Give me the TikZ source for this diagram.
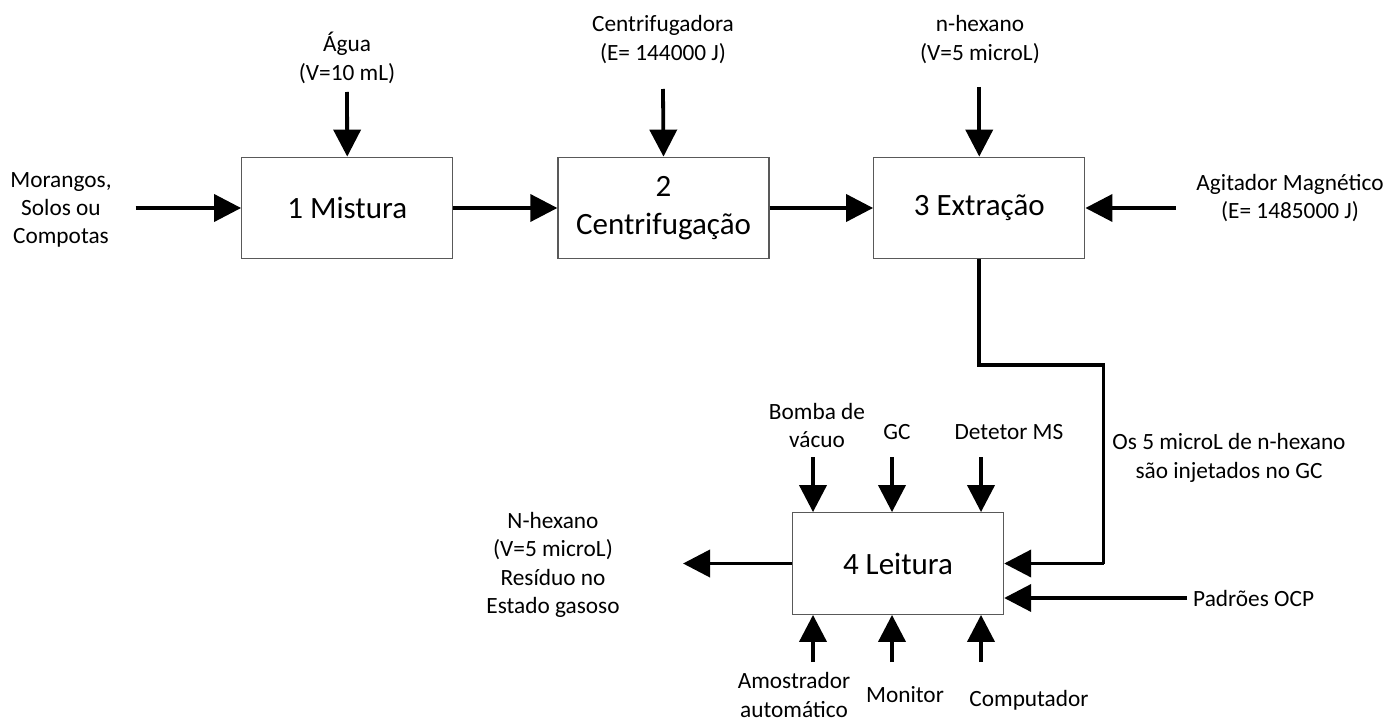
\documentclass[tikz,border=0pt]{standalone}
\usepackage{fontspec}
\setmainfont{Carlito}
\usetikzlibrary{arrows.meta}

\tikzset{
  stagebox/.style={draw=black!65, line width=1.3pt, minimum width=211pt, minimum height=101.5pt,
    inner sep=0pt, font=\fontsize{31}{37.5}\selectfont, align=center},
  lbl/.style={inner sep=0pt, font=\fontsize{23.3}{28.3}\selectfont, align=center},
  flow/.style={line width=3.8pt, -{Triangle[length=27pt,width=27pt]}},
  pipe/.style={line width=3.8pt}
}

\begin{document}
\begin{tikzpicture}[x=1pt,y=-1pt]
  \useasboundingbox (0,0) rectangle (1389,722);

  % process stages
  \node[stagebox] (b1) at (347.25,208) {1 Mistura};
  \node[stagebox] (b2) at (663.5,208) {2\\Centrifugação};
  \node[stagebox] (b3) at (979.25,208) {3 Extração};
  \node[stagebox] (b4) at (898,563.5) {4 Leitura};

  % inputs of the first three stages
  \node[lbl] (feed) at (61,210) {Morangos,\\Solos ou\\Compotas};
  \coordinate (feedE) at (135.5,208);
  \draw[flow] (feedE) -- (b1.west);

  \node[lbl] (agua) at (347,58) {Água\\(V=10 mL)};
  \coordinate (aguaS) at (347,92);
  \draw[flow] (aguaS) -- (b1.north);

  \draw[flow] (b1.east) -- (b2.west);

  \node[lbl] (centr) at (663,39.5) {Centrifugadora\\(E= 144000 J)};
  \coordinate (centrS) at (663,89);
  \draw[flow] (centrS) -- (b2.north);

  \draw[flow] (b2.east) -- (b3.west);

  \node[lbl] (hex) at (980,39.5) {n-hexano\\(V=5 microL)};
  \coordinate (hexS) at (979.25,87);
  \draw[flow] (hexS) -- (b3.north);

  \node[lbl] (agit) at (1290,198) {Agitador Magnético\\(E= 1485000 J)};
  \coordinate (agitW) at (1176,208);
  \draw[flow] (agitW) -- (b3.east);

  % transfer of the extract to the reading stage
  \coordinate (e1) at (979.25,365);
  \coordinate (e2) at (1103.5,365);
  \coordinate (e3) at (1103.5,563.5);
  \draw[pipe, line join=miter] (b3.south) -- (e1) -- (e2) -- (e3);
  \draw[flow] (e3) -- (b4.east |- e3);
  \node[lbl] (inj) at (1229,458) {Os 5 microL de n-hexano\\são injetados no GC};

  % equipment above the reading stage
  \node[lbl] (bomba) at (817,425.5) {Bomba de\\vácuo};
  \node[lbl] (gc) at (897,432) {GC};
  \node[lbl] (det) at (1009,432) {Detetor MS};
  \coordinate (t1) at (813,457);
  \coordinate (t2) at (892,457);
  \coordinate (t3) at (981,457);
  \draw[flow] (t1) -- (t1 |- b4.north);
  \draw[flow] (t2) -- (t2 |- b4.north);
  \draw[flow] (t3) -- (t3 |- b4.north);

  % equipment below the reading stage
  \node[lbl] (amos) at (794,695) {Amostrador\\automático};
  \node[lbl] (mon) at (905,695) {Monitor};
  \node[lbl] (comp) at (1029,700) {Computador};
  \coordinate (u1) at (813,662);
  \coordinate (u2) at (892,662);
  \coordinate (u3) at (981,662);
  \draw[flow] (u1) -- (u1 |- b4.south);
  \draw[flow] (u2) -- (u2 |- b4.south);
  \draw[flow] (u3) -- (u3 |- b4.south);

  % standards
  \node[lbl, anchor=west] (ocp) at (1193,598) {Padrões OCP};
  \coordinate (ocpW) at (1187,598);
  \draw[flow] (ocpW) -- (b4.east |- ocpW);

  % gaseous residue
  \node[lbl] (res) at (553,565) {N-hexano\\(V=5 microL)\\Resíduo no\\Estado gasoso};
  \coordinate (resE) at (683,563.5);
  \draw[flow] (b4.west) -- (resE);
\end{tikzpicture}
\end{document}
